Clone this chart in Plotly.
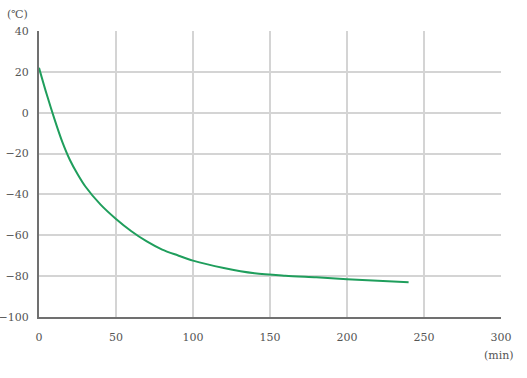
import plotly.graph_objects as go

time_min = [0, 5, 10, 15, 20, 25, 30, 40, 50, 60, 70, 80, 90, 100, 120, 140, 160, 180, 200, 220, 240]
temp_c = [22, 9, -3, -14, -23, -30, -36, -45, -52, -58, -63, -67, -69.8, -72.4, -76, -78.6, -79.8, -80.6, -81.5, -82.3, -83]

x_ticks = [0, 50, 100, 150, 200, 250, 300]
y_ticks = [-100, -80, -60, -40, -20, 0, 20, 40]

fig = go.Figure()
fig.add_trace(go.Scatter(x=time_min, y=temp_c, mode="lines",
                         line=dict(color="#1f9e5c", width=2, shape="spline", smoothing=0.8)))

font = dict(family="DejaVu Serif", size=11, color="#555555")
fig.update_layout(
    width=527, height=378,
    margin=dict(l=39, r=26, t=31, b=61, autoexpand=False),
    paper_bgcolor="white", plot_bgcolor="white",
    showlegend=False,
    font=font,
    xaxis=dict(range=[0, 300], tickvals=x_ticks, showgrid=True, gridcolor="#d4d4d4", gridwidth=1.5,
               zeroline=False, showline=True, linecolor="#707070", linewidth=2, ticks="", ticklen=0,
               ticklabelstandoff=9, tickfont=font, fixedrange=True, automargin=False),
    yaxis=dict(range=[-100, 40], tickvals=y_ticks, showgrid=True, gridcolor="#d4d4d4", gridwidth=1.5,
               zeroline=False, showline=True, linecolor="#707070", linewidth=2, ticks="", ticklen=0,
               ticklabelstandoff=6, tickfont=font, fixedrange=True, automargin=False),
    annotations=[
        dict(text="(℃)", xref="paper", yref="paper", x=0, y=1, xshift=-22, yshift=17,
             showarrow=False, font=font, xanchor="center", yanchor="middle"),
        dict(text="(min)", xref="paper", yref="paper", x=1, y=0, xshift=-2, yshift=-38,
             showarrow=False, font=font, xanchor="center", yanchor="middle"),
    ],
)
fig.write_html("out.html")
